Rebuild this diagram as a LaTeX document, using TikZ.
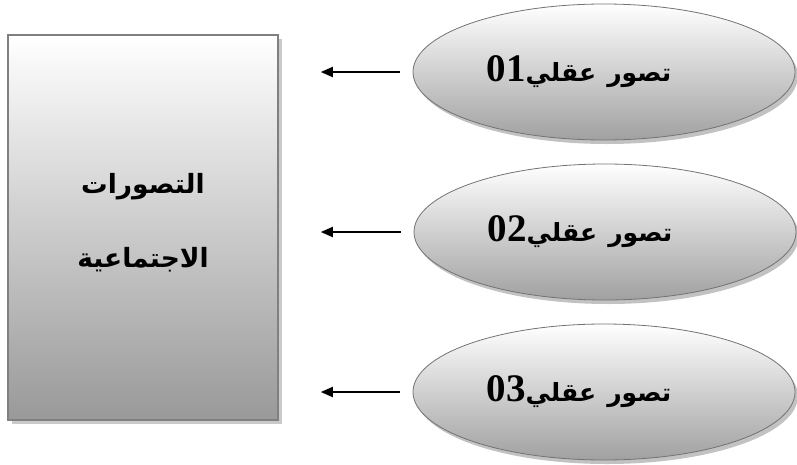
\documentclass[tikz,border=0pt]{standalone}
\usepackage{fontspec}
\usetikzlibrary{shapes.geometric,shadows,arrows.meta}
\TeXXeTstate=1
\newfontfamily\arabicfont[Script=Arabic]{DejaVu Sans}
\newfontfamily\digitfont{Liberation Serif}
\newcommand\numtag[1]{\beginL{\digitfont\fontsize{39}{39}\selectfont #1}\endL}
% label of one mental representation, set a little left of the ellipse centre
\newcommand\idealabel[1]{\hbox{\beginR تصور\hspace{11pt}عقلي\numtag{#1}\endR}\kern50pt}
\begin{document}
\begin{tikzpicture}[x=1pt,y=-1pt,
  panel/.style={rectangle, draw=black!50, line width=1.6pt,
    minimum width=270pt, minimum height=385pt, inner sep=0pt,
    top color=white, bottom color=black!40,
    drop shadow={shadow xshift=4pt, shadow yshift=-4pt, fill=black!35, opacity=.6},
    align=center, font=\arabicfont\bfseries\fontsize{26.5}{74}\selectfont},
  idea/.style={ellipse, draw=black!55, line width=0.8pt,
    minimum width=382pt, minimum height=136pt, inner sep=0pt,
    top color=white, bottom color=black!37,
    drop shadow={shadow xshift=3pt, shadow yshift=-4pt, fill=black!40, opacity=.6},
    font=\arabicfont\bfseries\fontsize{25}{30}\selectfont},
  feed/.style={line width=1.9pt, -{Triangle[length=12pt,width=10pt]},
    shorten <=13pt, shorten >=42pt}]
\useasboundingbox (0,0) rectangle (797,464);

% central concept
\node[panel] (soc) at (143,227.5)
  {\beginR التصورات\endR\\ \beginR الاجتماعية\endR\rule[-14pt]{0pt}{0pt}};

% contributing mental representations
\node[idea] (r1) at (604,72) {\idealabel{01}};
\node[idea] (r2) at (605,232) {\idealabel{02}};
\node[idea] (r3) at (604,392) {\idealabel{03}};

% arrows pointing to the central concept
\draw[feed] (r1.west) -- (r1.west -| soc.east);
\draw[feed] (r2.west) -- (r2.west -| soc.east);
\draw[feed] (r3.west) -- (r3.west -| soc.east);
\end{tikzpicture}
\end{document}
